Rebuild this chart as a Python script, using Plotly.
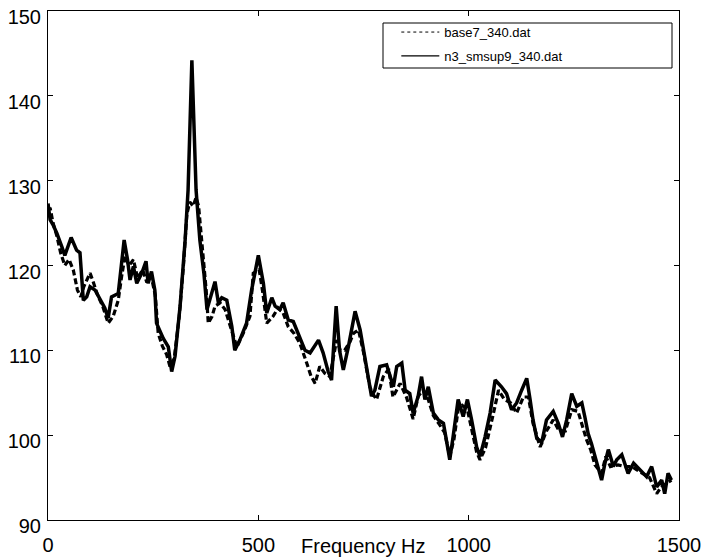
import plotly.graph_objects as go

# ---- data ----
freq_base = [0, 5, 12, 21, 30, 40, 50, 60, 70, 78, 85, 100, 108, 118, 130, 143, 155, 167, 175, 183,
             193, 203, 213, 225, 235, 245, 255, 262, 272, 282, 290, 300, 312, 322, 330, 337, 345, 352,
             358, 365, 369, 376, 381, 390, 397, 409, 421, 432, 440, 449, 464, 480, 488, 502, 510, 520,
             535, 547, 559, 571, 585, 599, 615, 625, 635, 646, 658, 670, 686, 695, 705, 718, 726, 738,
             750, 765, 773, 781, 797, 810, 820, 837, 852, 868, 880, 892, 904, 916, 930, 943, 955, 965,
             975, 985, 997, 1007, 1019, 1027, 1040, 1059, 1071, 1085, 1100, 1114, 1130, 1142, 1153,
             1170, 1185, 1201, 1215, 1230, 1245, 1260, 1270, 1280, 1290, 1300, 1316, 1326, 1337, 1355,
             1370, 1388, 1400, 1415, 1430, 1447, 1458, 1470, 1482]
spl_base = [126.5, 126.8, 125.0, 123.5, 121.5, 120.0, 120.7, 119.5, 117.1, 116.3, 117.5, 119.1, 118.0,
            116.5, 115.2, 113.2, 114.0, 115.9, 118.7, 121.1, 120.0, 120.7, 118.5, 119.5, 118.0, 118.8,
            116.5, 112.0, 110.5, 109.5, 108.1, 109.0, 114.0, 120.0, 126.0, 127.5, 127.0, 128.0, 127.0,
            123.5, 121.1, 117.1, 113.2, 114.0, 115.2, 115.6, 114.8, 113.0, 111.6, 110.4, 112.0, 114.0,
            119.1, 119.5, 117.0, 113.2, 114.0, 115.0, 114.4, 112.8, 112.0, 110.8, 108.5, 107.0, 106.1,
            108.1, 107.3, 106.9, 111.2, 110.0, 110.0, 111.0, 112.0, 112.4, 109.8, 105.7, 104.8, 104.2,
            106.9, 107.8, 104.5, 106.1, 104.5, 101.9, 104.6, 105.3, 104.2, 102.3, 101.3, 100.3, 97.5,
            99.5, 103.0, 103.5, 103.0, 100.8, 98.0, 97.1, 98.5, 102.6, 105.3, 104.2, 103.8, 102.6,
            104.5, 104.5, 101.4, 98.6, 100.5, 101.8, 100.5, 100.5, 103.0, 102.8, 101.0, 99.5, 98.3,
            96.5, 95.5, 97.5, 96.3, 96.5, 96.3, 96.3, 95.9, 95.5, 95.0, 93.1, 93.9, 94.3, 94.7]

freq_n3 = [0, 5, 12, 21, 33, 40, 55, 68, 76, 80, 84, 92, 100, 112, 124, 135, 143, 151, 167, 171, 181,
           189, 195, 203, 211, 223, 233, 238, 246, 254, 258, 265, 274, 286, 294, 302, 314, 326, 333,
           342, 352, 361, 371, 378, 387, 397, 405, 413, 425, 437, 444, 456, 472, 484, 500, 512, 520,
           532, 540, 551, 559, 571, 583, 599, 611, 623, 643, 654, 666, 674, 685, 693, 702, 714, 730,
           742, 750, 761, 769, 777, 789, 805, 821, 829, 841, 849, 860, 868, 880, 888, 896, 904, 916,
           928, 940, 951, 955, 963, 975, 987, 997, 1007, 1019, 1027, 1039, 1051, 1063, 1078, 1090,
           1102, 1114, 1126, 1138, 1146, 1153, 1162, 1174, 1185, 1201, 1213, 1223, 1233, 1245, 1257,
           1269, 1276, 1284, 1292, 1304, 1316, 1324, 1332, 1344, 1352, 1364, 1379, 1392, 1407, 1423,
           1435, 1447, 1459, 1466, 1474, 1482]
spl_n3 = [127.3, 125.4, 124.8, 123.8, 122.2, 121.2, 123.3, 121.8, 121.5, 118.3, 115.9, 116.3, 117.5,
          117.1, 115.9, 115.0, 113.8, 116.3, 116.7, 118.3, 123.0, 120.7, 118.3, 119.9, 117.9, 119.1,
          120.5, 117.9, 119.3, 117.1, 113.2, 112.4, 111.4, 110.4, 107.5, 109.3, 115.2, 123.0, 128.9,
          144.2, 128.9, 123.0, 118.9, 114.8, 116.5, 118.1, 115.6, 116.2, 115.9, 112.8, 110.0, 111.2,
          113.2, 117.1, 121.2, 117.9, 114.4, 116.2, 115.2, 114.8, 115.6, 113.6, 113.4, 111.6, 110.0,
          109.7, 111.2, 109.7, 107.5, 106.5, 115.2, 110.0, 107.7, 110.4, 114.6, 112.4, 110.0, 107.3,
          104.6, 105.3, 108.1, 108.3, 105.7, 108.1, 108.5, 105.3, 104.9, 102.6, 104.6, 106.9, 104.2,
          105.7, 102.6, 101.8, 101.4, 98.3, 97.1, 99.8, 104.2, 102.2, 104.2, 101.8, 98.6, 97.5, 99.8,
          102.6, 106.5, 105.7, 104.9, 103.0, 103.8, 105.3, 106.7, 104.2, 101.8, 99.6, 99.2, 101.8,
          102.8, 101.4, 99.8, 101.8, 104.9, 103.4, 103.8, 102.2, 100.2, 99.0, 96.7, 94.7, 96.7, 98.3,
          96.3, 97.1, 97.7, 95.5, 96.7, 95.9, 95.1, 96.3, 93.9, 94.7, 93.1, 95.5, 94.7]

series_names = ["base7_340.dat", "n3_smsup9_340.dat"]
x_tick_vals = [0, 500, 1000, 1500]
y_tick_vals = [90, 100, 110, 120, 130, 140, 150]

FONT = "Liberation Sans, Arial, Helvetica, sans-serif"

fig = go.Figure()
fig.add_trace(go.Scatter(x=freq_base, y=spl_base, mode="lines", showlegend=False,
                         line=dict(color="black", width=3.2, dash="6px,3px")))
fig.add_trace(go.Scatter(x=freq_n3, y=spl_n3, mode="lines", showlegend=False,
                         line=dict(color="black", width=3.5)))
# legend entries (thin samples, as in the reference legend)
fig.add_trace(go.Scatter(x=[None], y=[None], mode="lines", name=series_names[0],
                         legendgroup="a", line=dict(color="black", width=1, dash="dot")))
fig.add_trace(go.Scatter(x=[None], y=[None], mode="lines", name=series_names[1],
                         legendgroup="b", line=dict(color="black", width=1.2)))

axis_common = dict(showline=True, linecolor="black", linewidth=1, mirror="allticks",
                   ticks="inside", ticklen=5, tickcolor="black", showgrid=False, zeroline=False,
                   automargin=False,
                   tickfont=dict(family=FONT, size=20, color="black"))

fig.update_xaxes(range=[0, 1500], tickvals=x_tick_vals, ticklabelstandoff=7, **axis_common)
fig.update_yaxes(range=[90, 150], tickvals=y_tick_vals, ticklabelshift=6, ticklabelstandoff=2,
                 **axis_common)

fig.update_layout(
    width=705, height=560,
    margin=dict(l=48, r=26, t=11, b=40),
    paper_bgcolor="white", plot_bgcolor="white",
    legend=dict(x=0.552, y=0.988, xanchor="left", yanchor="top", itemwidth=38,
                tracegroupgap=4,
                bgcolor="rgba(0,0,0,0)", borderwidth=0,
                font=dict(family=FONT, size=13, color="black")),
    shapes=[dict(type="rect", xref="paper", yref="paper",
                 x0=(383 - 48) / 631, x1=(672 - 48) / 631,
                 y0=(520 - 68) / 509, y1=(520 - 23) / 509,
                 line=dict(color="black", width=1), fillcolor="rgba(0,0,0,0)")],
    annotations=[dict(text="Frequency Hz", xref="paper", yref="paper", x=0.50, y=-0.051,
                      xanchor="center", yanchor="middle", showarrow=False,
                      font=dict(family=FONT, size=20, color="black"))],
)

fig.write_html("out.html")
